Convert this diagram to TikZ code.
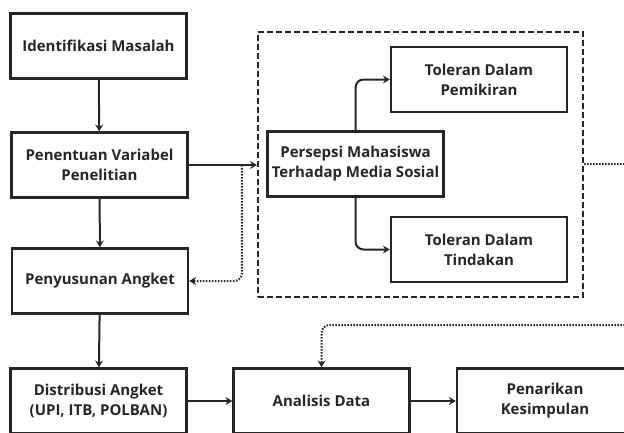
\documentclass[tikz,border=0pt]{standalone}
\usepackage{fontspec}
\setmainfont{Open Sans}
\usetikzlibrary{arrows.meta}
\begin{document}
\begin{tikzpicture}[x=1pt,y=-1pt,
  box/.style={draw=black!85, line width=2.3pt, minimum width=176pt, minimum height=65pt,
     inner sep=0pt, align=center, font=\bfseries\fontsize{15}{20}\selectfont, text=black!85},
  arr/.style={line width=2pt, draw=black!85, -{Stealth[length=7pt,width=8pt,inset=2.5pt]}},
  dot/.style={line width=2pt, draw=black!85, dash pattern=on 1.5pt off 1.5pt},
  grpbox/.style={draw=black!85, line width=2pt, dash pattern=on 6pt off 3pt, minimum width=325pt, minimum height=265pt, inner sep=0pt}
]
\useasboundingbox (0,0) rectangle (624,432);
\clip (0,0) rectangle (624,432);
\node[box] (idm) at (98.5,46) {Identifikasi Masalah};
\node[box] (pvp) at (99.5,165) {Penentuan Variabel\\Penelitian};
\node[box] (pa) at (100,281) {Penyusunan Angket};
\node[box] (da) at (98.5,401) {Distribusi Angket\\(UPI, ITB, POLBAN)};
\node[box] (ad) at (321.5,401) {Analisis Data};
\node[box] (pk) at (545,401) {Penarikan\\Kesimpulan};
\node[grpbox] (grp) at (420.5,164.5) {};
\node[box] (pms) at (355.5,164) {Persepsi Mahasiswa\\Terhadap Media Sosial};
\node[box] (tdp) at (479,79.5) {Toleran Dalam\\Pemikiran};
\node[box] (tdt) at (479,249.5) {Toleran Dalam\\Tindakan};

\draw[arr] (idm) -- (pvp);
\draw[arr] (pvp) -- (pa);
\draw[arr] (pa) -- (da);
\draw[arr] (da) -- (ad);
\draw[arr] (ad) -- (pk);
\draw[arr] (pvp.east) -- (grp.west |- pvp.east) coordinate[pos=0.78] (fb);
\draw[arr, rounded corners=8pt] (pms.north) |- (tdp.west);
\draw[arr, rounded corners=8pt] (pms.south) |- (tdt.west);

\coordinate (fr) at (640,164);
\coordinate (fl) at (640,325);
\draw[dot, -{Stealth[length=7pt,width=8pt,inset=2.5pt]}, rounded corners=8pt]
  (fb) |- (pa.east);
\draw[dot, -{Stealth[length=7pt,width=8pt,inset=2.5pt]}, rounded corners=8pt]
  (grp.east |- fr) -- (fr) -- (fl) -| (ad.north);
\end{tikzpicture}
\end{document}
